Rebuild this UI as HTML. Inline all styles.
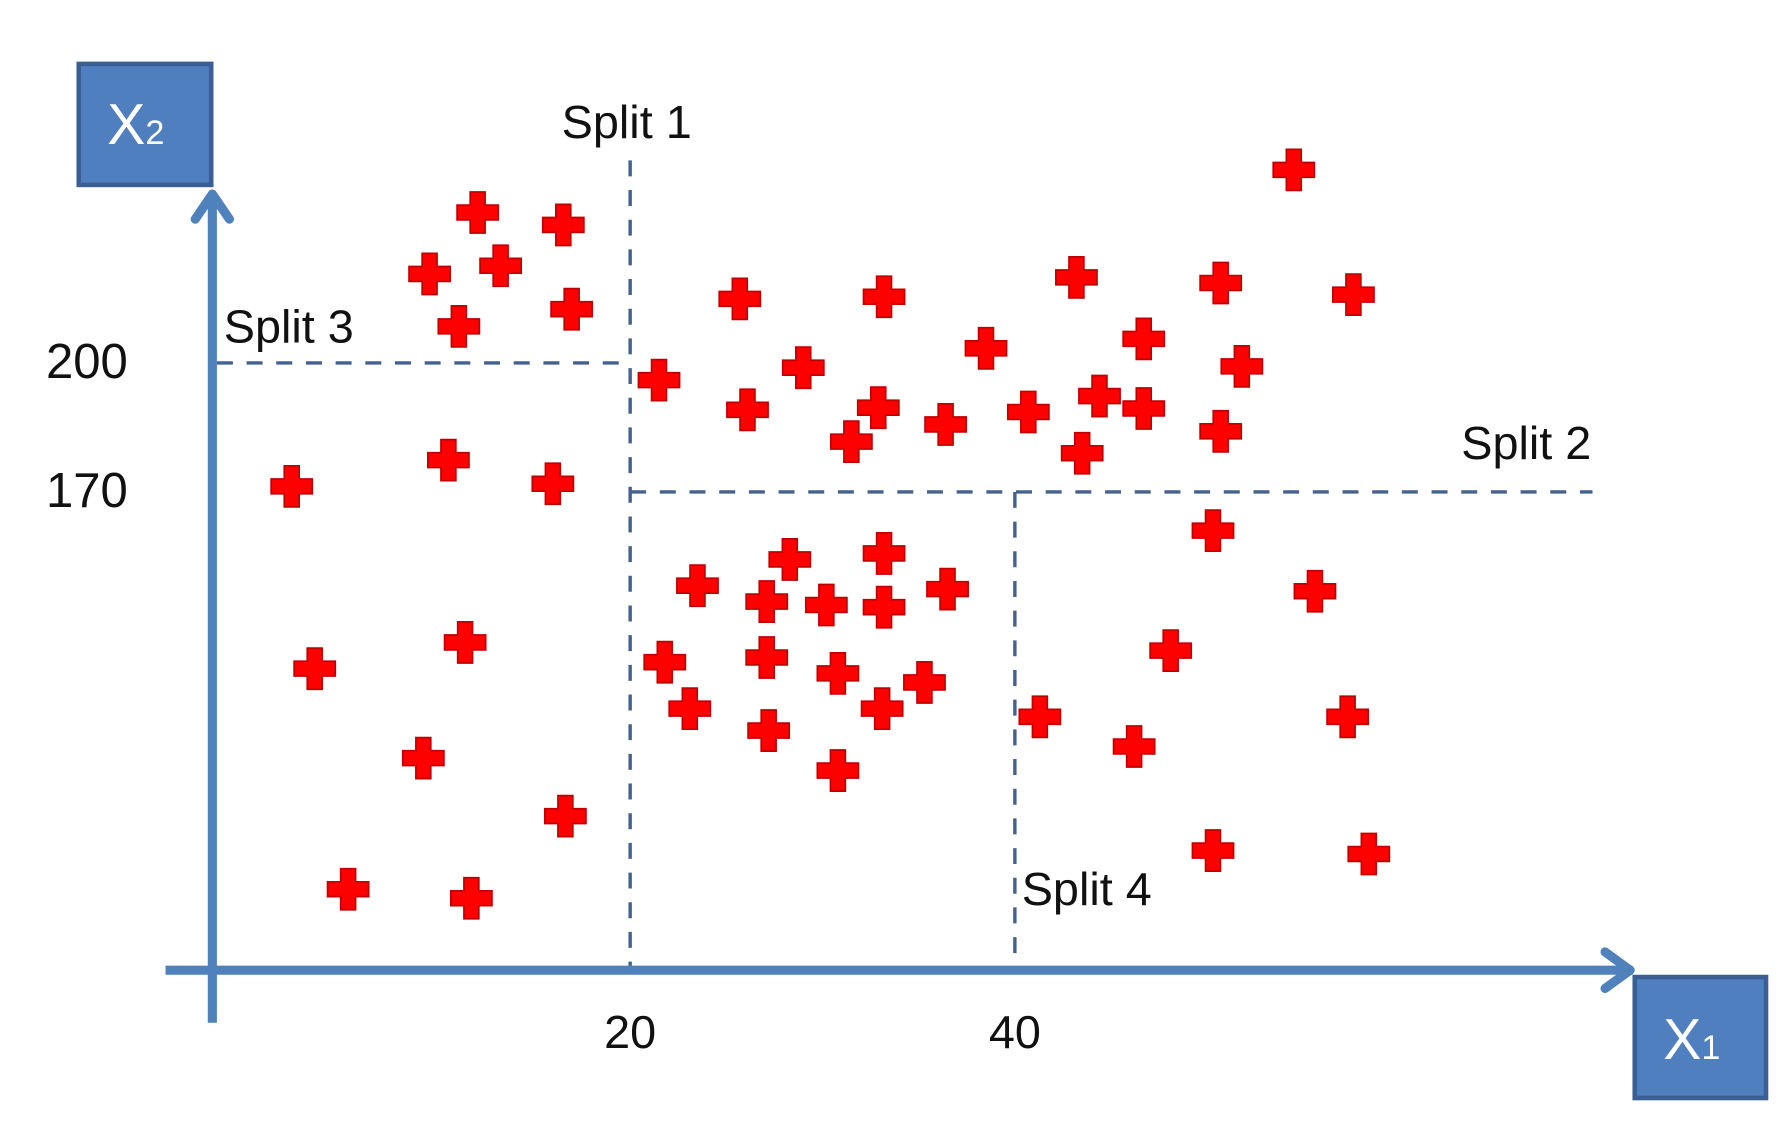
<!DOCTYPE html>
<html><head><meta charset="utf-8">
<style>
html,body{margin:0;padding:0;background:#fff;width:1790px;height:1122px;overflow:hidden}
svg{display:block}
text{font-family:"Liberation Sans",sans-serif;fill:#111}
</style></head>
<body>
<svg id="chart" width="1790" height="1122" viewBox="0 0 1568 983" preserveAspectRatio="none" xmlns="http://www.w3.org/2000/svg">
  <g id="splits"></g>
  <g id="axes">
    <line x1="145" y1="850" x2="1430" y2="850" stroke="#4f81bd" stroke-width="8"/>
    <polyline points="1406,834 1428,850 1406,866" fill="none" stroke="#4f81bd" stroke-width="8" stroke-linecap="round" stroke-linejoin="round"/>
    <line x1="186" y1="896" x2="186" y2="170" stroke="#4f81bd" stroke-width="8"/>
    <polyline points="171,192 186,170 201,192" fill="none" stroke="#4f81bd" stroke-width="8" stroke-linecap="round" stroke-linejoin="round"/>
  </g>
  <g id="ticks"></g>
  <g id="labels"></g>
  <g id="points"></g>
  <g>
    <rect x="69" y="56" width="116" height="106" fill="#4f7fbf" stroke="#3b5f94" stroke-width="4"/>
    <text x="94" y="126" font-size="50" style="fill:#fff">X<tspan font-size="30">2</tspan></text>
  </g>
  <g>
    <rect x="1432" y="856" width="115" height="106" fill="#4f7fbf" stroke="#3b5f94" stroke-width="4"/>
    <text x="1457" y="928" font-size="50" style="fill:#fff">X<tspan font-size="30">1</tspan></text>
  </g>
</svg>
<script>
const xTickVals = [20, 40];
const yTickVals = [200, 170];
const xData = [12.7,16.8,10.4,13.8,17.2,11.8,21.5,25.7,33.2,29.0,26.1,32.9,31.5,36.4,38.5,40.7,43.2,46.7,44.4,46.7,43.5,50.7,51.8,50.7,54.5,57.6,3.8,11.3,16.3,50.3,55.6,48.1,23.5,28.3,33.2,27.1,30.2,33.2,36.5,21.8,27.1,30.8,35.3,23.1,33.1,27.2,30.8,41.3,46.2,57.3,50.3,58.4,4.9,12.1,10.1,16.9,6.5,12.4];
const yData = [235.0,232.1,220.7,222.6,212.5,208.5,196.0,214.9,215.4,198.9,189.1,189.6,181.7,185.7,203.4,188.6,219.9,205.6,192.3,189.4,179.0,218.6,199.2,184.1,244.9,215.9,171.3,177.4,171.9,161.0,146.9,133.1,148.2,154.3,155.7,144.5,143.7,143.2,147.4,130.4,131.5,127.8,125.7,119.6,119.6,114.5,105.2,117.7,110.8,117.7,86.6,85.8,128.9,135.0,108.1,94.6,77.6,75.5];
const splitNames = ["Split 1","Split 2","Split 3","Split 4"];

const NS = "http://www.w3.org/2000/svg";
function xs(v){ return v <= 20 ? 186 + v*18.3 : 552 + (v-20)*16.85; }
function ys(v){ return 431 - (v-170)*3.767; }
function mk(tag, attrs, parent){ const e=document.createElementNS(NS,tag); for(const k in attrs) e.setAttribute(k,attrs[k]); parent.appendChild(e); return e; }

const sg = document.getElementById('splits');
const dash = {stroke:"#44628f","stroke-width":3,"stroke-dasharray":"14 12"};
const lines = [
  [xs(20), ys(245)-8, xs(20), 850, 'split-1-line'],
  [xs(20), ys(170), 1395, ys(170), 'split-2-line'],
  [190, ys(200), xs(20), ys(200), 'split-3-line'],
  [xs(40), ys(170), xs(40), 850, 'split-4-line']
];
lines.forEach(l=>{
  const e = mk('line', Object.assign({x1:l[0],y1:l[1],x2:l[2],y2:l[3]}, dash), sg);
  
  
});

const lg = document.getElementById('labels');
const labelPos = [[492,121],[1280,402],[196,300],[895,793]];
splitNames.forEach((n,i)=>{
  const t = mk('text',{x:labelPos[i][0],y:labelPos[i][1],'font-size':41},lg);
  t.textContent = n;
  
  
});

const tg = document.getElementById('ticks');
xTickVals.forEach(v=>{
  const t = mk('text',{x:xs(v),y:918,'font-size':41,'text-anchor':'middle'},tg);
  t.textContent = v;
  
  
});
yTickVals.forEach(v=>{
  const t = mk('text',{x:112,y:ys(v)+13,'font-size':43,'text-anchor':'end'},tg);
  t.textContent = v;
  
  
});

const pg = document.getElementById('points');
const h = 18, a = 6.5;
xData.forEach((xv,i)=>{
  const cx = xs(xv), cy = ys(yData[i]);
  const d = `M${cx-a},${cy-h}H${cx+a}V${cy-a}H${cx+h}V${cy+a}H${cx+a}V${cy+h}H${cx-a}V${cy+a}H${cx-h}V${cy-a}H${cx-a}Z`;
  const p = mk('path',{d:d,fill:"#ff0000",stroke:"#c00000","stroke-width":1.5},pg);
  
  
});
</script>
</body></html>
